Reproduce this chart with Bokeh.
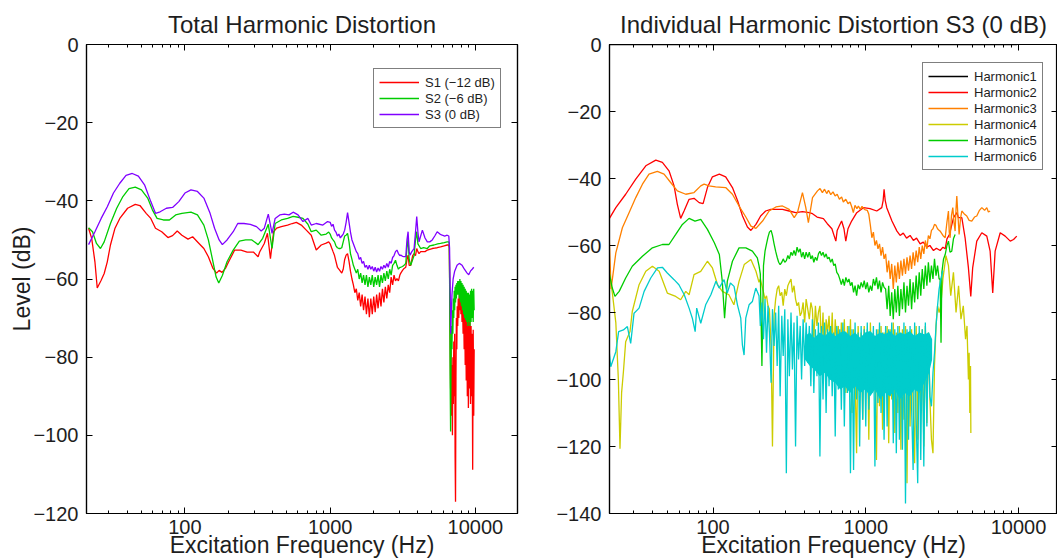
from bokeh.plotting import figure
from bokeh.layouts import row
from bokeh.models import (Range1d, LogAxis, LinearAxis, FixedTicker,
                          CustomJSTickFormatter, Legend, LegendItem)
from bokeh.embed import file_html
from bokeh.resources import INLINE

# ---------------- data ----------------
titles = ["Total Harmonic Distortion", "Individual Harmonic Distortion S3 (0 dB)"]
x_label = "Excitation Frequency (Hz)"
y_label = "Level (dB)"
x_ticks = [100, 1000, 10000]
x_minor_ticks = [30, 40, 50, 60, 70, 80, 90, 200, 300, 400, 500, 600, 700, 800, 900,
                 2000, 3000, 4000, 5000, 6000, 7000, 8000, 9000]
left_y_ticks = [0, -20, -40, -60, -80, -100, -120]
right_y_ticks = [0, -20, -40, -60, -80, -100, -120, -140]
left_names = ["S1 (\u221212 dB)", "S2 (\u22126 dB)", "S3 (0 dB)"]
right_names = ["Harmonic1", "Harmonic2", "Harmonic3", "Harmonic4", "Harmonic5", "Harmonic6"]

# shared sampling frequencies of the noisy mid band (Hz)
freq_grid = [200, 204, 209, 214, 219, 224, 229, 234, 240, 245,
             251, 257, 263, 269, 275, 282, 288, 295, 302, 309,
             316, 324, 331, 339, 347, 355, 363, 372, 380, 389,
             398, 407, 417, 427, 437, 447, 457, 468, 479, 490,
             501, 513, 525, 537, 550, 562, 575, 589, 603, 617,
             631, 646, 661, 676, 692, 708, 724, 741, 759, 776,
             794, 813, 832, 851, 871, 891, 912, 933, 955, 977,
             1000, 1023, 1047, 1072, 1096, 1122, 1148, 1175, 1202, 1230,
             1259, 1288, 1318, 1349, 1380, 1413, 1445, 1479, 1514, 1549,
             1585, 1622, 1660, 1698, 1738, 1778, 1820, 1862, 1905, 1950,
             1995, 2042, 2089, 2138, 2188, 2239, 2291, 2344, 2399, 2455,
             2512, 2570, 2630, 2692, 2754, 2818, 2884, 2951, 3020]
# sampling frequencies of the high end (left panel)
freq_tail = [6607, 6650, 6700, 6750, 6800, 6850, 6900, 6950, 7000, 7050,
             7100, 7150, 7200, 7250, 7300, 7350, 7400, 7450, 7500, 7560,
             7620, 7690, 7750, 7820, 7890, 7950, 8020, 8090, 8160, 8230,
             8300, 8370, 8440, 8510, 8580, 8650, 8730, 8800, 8880, 8950,
             9030, 9100, 9180, 9260, 9340, 9420, 9500, 9580, 9660, 9740, 9810]

# ---- left panel: S1 ----
s1_freq_a = [21.7, 22.8, 24.0, 24.9, 26.5, 27.8, 29.2, 30.7, 33.0, 35.6,
             40.3, 45.5, 49.0, 54.1, 58.2, 62.7, 69.2, 76.4, 82.2, 88.5,
             95.3, 105, 113, 125, 135, 145, 156, 165, 172, 180,
             190, 200, 220, 243, 268, 296, 319, 327, 352, 370,
             388, 408, 428, 461, 509, 548, 585, 633, 685, 741,
             802, 868, 939, 977]
s1_db_a = [-47.0, -49.6, -55.6, -62.3, -60.3, -58.6, -55.6, -51.3, -47.0, -44.5,
           -41.9, -40.9, -41.2, -43.2, -44.5, -47.0, -47.9, -49.4, -48.9, -47.7,
           -48.8, -49.8, -49.2, -50.9, -52.2, -54.3, -57.3, -58.5, -57.8, -58.3,
           -57.3, -55.6, -52.6, -52.6, -53.1, -53.1, -54.3, -53.1, -50.9, -48.3,
           -54.8, -47.9, -47.0, -46.6, -46.2, -45.8, -45.5, -46.2, -47.5, -48.8,
           -52.6, -51.3, -50.8, -50.5]
s1_db_grid = [-51.0, -52.0, -53.0, -54.0, -55.5, -57.0, -57.5, -58.0, -58.5, -57.5,
              -55.0, -53.9, -53.5, -55.5, -58.0, -60.0, -61.5, -63.5, -62.5, -65.5,
              -63.5, -67.0, -64.0, -68.0, -64.5, -69.0, -65.0, -69.8, -65.0, -69.0,
              -64.5, -68.5, -64.0, -67.5, -63.5, -67.0, -62.5, -66.0, -62.0, -65.0,
              -61.5, -63.5, -59.5, -61.5, -59.0, -60.5, -59.9, -60.5, -59.0]
s1_freq_b = [3064, 3150, 3228, 3316, 3380, 3441, 3500, 3587, 3700, 3784,
             3870, 3946, 4020, 4093, 4200, 4316, 4500, 4667, 4850, 5047,
             5250, 5458, 5754, 6100, 6394, 6560]
s1_db_b = [-58.5, -57.8, -57.3, -57.0, -55.0, -53.9, -56.5, -56.5, -54.0, -53.5,
           -54.0, -52.2, -53.0, -53.5, -53.0, -53.0, -53.0, -52.6, -52.4, -52.2,
           -52.1, -52.0, -51.8, -51.5, -51.3, -51.3]
s1_db_tail = [-52, -60, -75, -88, -78, -95, -82, -100, -80, -92,
              -76, -90, -74, -105, -117, -85, -70, -78, -67, -72,
              -65, -70, -64, -68, -64.2, -69, -65, -71, -66, -74,
              -67, -78, -68, -82, -69, -86, -70, -90, -69, -93,
              -70, -88, -71, -92, -72, -90, -74, -108.8, -73, -95, -78]

# ---- left panel: S2 ----
s2_freq_a = [21.7, 23.1, 24.6, 26.2, 27.8, 30.7, 33.9, 37.4, 41.2, 45.5,
             50.2, 55.4, 59.7, 64.3, 71.0, 78.2, 86.3, 95.3, 110, 122,
             135, 145, 156, 164, 171, 181, 195, 215, 237, 262,
             289, 319, 343, 375, 398, 418, 461, 509, 556, 601,
             650, 703, 741, 802, 868, 939, 977]
s2_db_a = [-46.9, -47.9, -50.9, -52.2, -50.5, -45.8, -41.9, -38.9, -36.9, -36.5,
           -37.2, -39.3, -42.3, -44.5, -44.9, -44.9, -43.6, -43.2, -42.9, -43.6,
           -46.2, -50.0, -55.6, -59.5, -61.0, -59.1, -55.6, -52.6, -50.3, -50.0,
           -50.0, -51.2, -49.6, -46.0, -52.2, -45.8, -44.9, -44.5, -44.0, -44.2,
           -44.5, -46.0, -47.9, -47.5, -48.8, -48.5, -48.0]
s2_db_grid = [-48.5, -49.5, -50.0, -50.5, -51.5, -52.0, -52.2, -52.2, -52.0, -50.5,
              -49.0, -48.8, -48.3, -50.5, -53.5, -55.0, -56.5, -57.5, -58.5, -57.5,
              -60.0, -58.5, -61.0, -59.0, -61.5, -59.0, -62.0, -59.5, -61.5, -59.0,
              -62.0, -59.5, -61.5, -59.0, -62.0, -59.0, -61.0, -58.5, -60.5, -58.0,
              -60.0, -57.5, -59.0, -56.5, -56.0, -55.2, -56.5, -57.5, -57.0]
s2_freq_b = [3064, 3150, 3228, 3316, 3380, 3441, 3500, 3587, 3700, 3784,
             3870, 3946, 4020, 4200, 4400, 4667, 4850, 5184, 5500, 5754,
             6100, 6394, 6560]
s2_db_b = [-57.0, -56.8, -56.5, -56.0, -52.0, -49.6, -55.0, -56.5, -55.0, -54.0,
           -50.0, -47.9, -51.0, -52.2, -52.0, -52.2, -51.5, -51.3, -51.0, -50.9,
           -50.7, -50.5, -50.5]
s2_db_tail = [-51, -62, -85, -99, -80, -72, -78, -68, -74, -65,
              -70, -63, -68, -62, -66, -61.5, -65, -61, -64, -60.5,
              -64, -60.5, -65, -60, -66, -60.5, -67, -61, -68, -61.5,
              -69, -62, -70, -62.5, -70.5, -63, -71, -63.5, -72, -63.5,
              -71, -64, -72, -63, -71, -62.5, -70, -63, -71, -62.5, -68]

# ---- left panel: S3 ----
s3_freq_a = [21.7, 24.0, 26.5, 29.2, 32.2, 35.6, 39.3, 43.4, 47.8, 52.7,
             58.2, 62.7, 67.5, 74.5, 82.2, 90.7, 100, 110, 122, 135,
             149, 160, 172, 181, 195, 215, 231, 255, 282, 311,
             335, 352, 375, 398, 418, 450, 484, 521, 556, 601,
             650, 703, 741, 802, 891, 960]
s3_db_a = [-51.2, -47.9, -44.5, -41.5, -38.0, -35.5, -33.5, -33.0, -33.7, -35.9,
           -40.2, -43.2, -42.8, -41.9, -41.7, -40.2, -38.0, -37.2, -37.6, -39.3,
           -43.2, -47.0, -50.0, -51.2, -50.0, -47.9, -45.8, -45.8, -46.0, -46.6,
           -47.7, -47.0, -43.4, -48.3, -44.5, -43.6, -43.4, -43.6, -42.9, -43.6,
           -45.3, -44.5, -46.2, -45.8, -46.2, -45.3]
s3_db_grid = [-45.5, -46.5, -46.0, -47.5, -48.0, -49.0, -48.5, -49.5, -49.0, -48.5,
              -47.5, -45.5, -43.0, -45.5, -48.0, -50.0, -51.0, -52.0, -53.0, -53.5,
              -55.0, -54.5, -56.0, -55.5, -57.0, -56.5, -57.5, -56.5, -57.5, -56.8,
              -58.0, -57.0, -58.2, -57.2, -58.0, -56.8, -57.5, -56.5, -57.2, -56.0,
              -57.0, -55.5, -56.0, -54.5, -54.0, -53.0, -52.6, -53.5, -54.0]
s3_freq_b = [3064, 3150, 3228, 3316, 3380, 3441, 3500, 3550, 3650, 3784,
             3870, 3946, 4020, 4093, 4200, 4316, 4500, 4667, 4850, 5047,
             5250, 5458, 5700, 5911, 6150, 6394, 6560, 6640, 6700, 6760,
             6808, 6900, 7027, 7200, 7480, 7750, 8105, 8400, 8770, 9000,
             9245, 9500, 9750]
s3_db_b = [-53.9, -54.2, -54.3, -54.3, -50.0, -47.9, -53.0, -53.9, -53.0, -52.2,
           -48.0, -44.0, -48.0, -50.5, -49.0, -47.5, -49.5, -50.5, -50.5, -50.0,
           -49.0, -47.9, -48.5, -48.8, -49.0, -48.8, -49.0, -52.0, -62.0, -74.0,
           -70.0, -64.0, -60.0, -58.0, -56.5, -56.0, -56.5, -57.5, -58.5, -58.9,
           -58.0, -57.5, -57.0]

# ---- right panel ----
h1_freq = [20.8, 9800]
h1_db = [0.0, 0.0]

h2_freq = [20.8, 23.1, 26.8, 31.2, 36.3, 42.2, 46.6, 51.5, 55.6, 58.4,
           61.4, 64.6, 69.7, 75.1, 81.1, 86.1, 91.9, 99.1, 110, 121,
           134, 145, 156, 168, 177, 191, 205, 221, 239, 258,
           285, 315, 348, 385, 426, 448, 480, 528, 560, 600,
           637, 650, 670, 695, 720, 740, 765, 808, 873, 965,
           1067, 1180, 1273, 1300, 1318, 1340, 1372, 1484, 1600, 1678,
           1760, 1850, 1951, 2050, 2150, 2270, 2380, 2512, 2630, 2776,
           2900, 3070, 3200, 3311, 3400, 3535, 3754, 3945, 4045, 4254,
           4470, 4700, 4870, 5010, 5330, 5750, 6200, 6520, 6780, 7030,
           7590, 8180, 8830, 9280, 9740]
h2_db = [-52.2, -48.7, -44.7, -40.2, -36.2, -34.5, -35.2, -37.7, -42.2, -47.7,
         -51.9, -49.7, -46.2, -45.9, -47.2, -47.5, -42.7, -39.5, -38.7, -39.5,
         -42.7, -46.7, -51.2, -54.5, -55.5, -53.7, -51.2, -49.7, -49.2, -49.2,
         -49.2, -49.7, -50.2, -49.9, -50.2, -50.5, -51.5, -52.0, -53.5, -55.0,
         -58.7, -55.5, -54.2, -52.7, -55.0, -58.7, -55.0, -52.7, -50.2, -48.7,
         -49.0, -49.7, -48.7, -46.5, -43.2, -46.5, -48.7, -52.7, -55.7, -57.0,
         -56.3, -57.8, -57.0, -58.5, -57.8, -59.5, -59.0, -60.5, -60.0, -61.5,
         -60.8, -61.5, -60.5, -61.0, -58.0, -56.7, -51.7, -50.2, -51.7, -51.7,
         -57.7, -66.7, -75.2, -66.7, -58.7, -56.2, -57.2, -61.7, -74.2, -61.7,
         -56.2, -57.2, -58.7, -58.2, -57.2]

h3_freq_a = [20.8, 21.5, 23.1, 25.5, 28.2, 31.2, 34.5, 38.1, 43.2, 47.8,
             52.8, 58.4, 66.3, 75.1, 83.1, 87.4, 94.2, 104, 121, 134,
             148, 164, 177, 191, 211, 233, 258, 285, 315, 340,
             357, 385, 405, 421, 448, 483, 502, 520, 537, 555,
             570, 590, 610, 630, 650, 672, 695, 713, 740, 765,
             789, 810, 829, 850, 875, 895, 920, 945, 965, 985]
h3_db_a = [-54.7, -73.0, -62.2, -54.7, -50.2, -45.7, -41.7, -38.7, -37.9, -38.7,
           -41.2, -43.7, -44.7, -44.2, -42.2, -41.7, -42.2, -42.5, -42.7, -44.7,
           -48.2, -51.5, -54.2, -54.9, -52.7, -49.7, -48.5, -48.2, -49.2, -51.7,
           -50.2, -44.2, -48.7, -53.2, -45.7, -43.7, -43.0, -44.2, -43.2, -44.5,
           -43.5, -44.8, -44.0, -45.2, -44.7, -46.2, -45.5, -47.0, -46.2, -47.5,
           -47.0, -48.5, -50.2, -48.0, -49.0, -48.2, -49.2, -48.3, -48.9, -49.3]
h3_db_grid = [-49.5, -50.7, -54.0, -57.7, -56.0, -60.0, -58.5, -61.0, -59.5, -63.0,
              -60.5, -64.0, -62.5, -68.0, -64.5, -70.0, -65.5, -73.0, -66.0, -71.0,
              -65.0, -70.0, -64.5, -69.0, -64.0, -68.5, -63.5, -67.5, -63.0, -67.0,
              -62.0, -66.0, -61.5, -65.0, -60.5, -64.0, -60.0, -62.5, -58.5, -61.0,
              -57.0, -58.0, -55.5, -55.0, -53.7, -54.0, -55.0, -55.5]
h3_freq_b = [3070, 3200, 3311, 3400, 3478, 3520, 3567, 3640, 3714, 3780,
             3846, 3900, 3945, 4000, 4085, 4170, 4254, 4400, 4584, 4750,
             4944, 5150, 5330, 5550, 5750, 6000, 6200, 6350, 6520]
h3_db_b = [-55.7, -57.0, -57.7, -53.0, -49.7, -56.0, -57.7, -51.0, -48.7, -53.0,
           -55.7, -49.0, -45.2, -50.0, -56.7, -52.0, -49.7, -50.5, -51.2, -52.5,
           -52.7, -51.5, -51.2, -49.5, -48.7, -49.5, -48.7, -50.0, -49.7]

h4_freq_a = [20.8, 21.9, 23.1, 24.0, 24.6, 25.2, 25.9, 26.8, 28.6, 29.6,
             32.8, 36.3, 40.1, 44.4, 50.2, 57.0, 61.4, 66.3, 69.7, 75.1,
             83.1, 91.9, 99.1, 107, 115, 127, 137, 148, 160, 177, 191]
h4_db_a = [-66.7, -74.0, -83.0, -100.0, -120.7, -104.0, -97.7, -88.7, -85.7, -79.7,
           -71.7, -67.7, -66.2, -67.7, -74.2, -75.2, -76.2, -73.7, -74.7, -68.7,
           -67.7, -64.7, -66.7, -71.7, -73.7, -74.7, -77.7, -70.7, -65.7, -64.2, -67.7]
h4_db_grid = [-71, -70, -72, -74, -76, -75, -78, -79, -90, -120,
              -81, -76, -73, -72, -75, -74, -78, -73, -75, -72,
              -71, -70, -74, -72, -76, -78, -77, -81, -80, -77,
              -83, -76, -79, -82, -77, -79, -88, -78, -84, -80,
              -78, -90, -80, -98, -82, -86, -81, -92, -80, -95,
              -82, -89, -84, -100, -83, -94, -82, -104, -84, -96,
              -82, -110, -85, -100, -122, -84, -98, -86, -112, -84,
              -102, -85, -118, -83, -104, -86, -99, -124, -85, -108,
              -84, -115, -86, -102, -84, -119, -85, -106, -83, -116,
              -86, -110, -84, -121, -85, -112, -84, -131, -86, -114,
              -85, -108, -125, -84, -118, -86, -110, -85, -120, -84,
              -113, -86, -106, -118, -122, -96, -84, -78, -80]
h4_freq_b = [3100, 3200, 3350, 3478, 3600, 3750, 3900, 4050, 4200, 4350,
             4500, 4600, 4700, 4750, 4800, 4850, 4876]
h4_db_b = [-78, -70, -63, -66, -75, -68, -80, -72, -82, -78,
           -88, -84, -100, -92, -110, -96, -116]

h5_freq_a = [20.8, 21.9, 22.8, 24.3, 26.8, 29.6, 34.5, 40.1, 46.6, 51.5,
             57.0, 63.0, 69.7, 76.2, 83.1, 91.9, 102, 110, 115, 119,
             124, 134, 148, 164, 181, 195]
h5_db_a = [-67.7, -72.7, -75.2, -73.7, -69.7, -66.2, -63.2, -60.7, -59.7, -59.7,
           -56.7, -53.7, -51.9, -52.7, -52.2, -55.2, -59.2, -62.7, -70.7, -81.7,
           -70.7, -64.7, -60.7, -60.7, -61.7, -63.7]
h5_db_grid = [-66, -68.5, -96, -66, -61.7, -59.5, -57.5, -56, -55.5, -57,
              -59.5, -61.7, -63.5, -65, -65.7, -65, -64, -65, -64.5, -63,
              -64, -62, -63, -61.5, -63, -60.5, -62, -61, -63.5, -62,
              -64, -62, -63.5, -62, -64, -63, -65, -63.5, -64.5, -62.5,
              -61.7, -63, -62, -63.5, -62.5, -64, -63.5, -65, -64, -66,
              -65.5, -68, -68.7, -70, -71.7, -70, -72, -69.5, -71, -70,
              -72, -71, -74, -72, -75, -71.7, -73, -71, -72.5, -70.5,
              -73, -71, -74, -72, -73.5, -70, -72, -69.5, -73, -70.5,
              -74, -71, -72.5, -73, -79, -72, -81, -74, -82, -73,
              -80, -72, -81, -73, -79, -71, -80, -72, -78, -70,
              -79, -71, -77, -69, -76, -68, -75, -67, -73, -66,
              -72, -65, -71, -66, -70, -64, -69, -66, -70]
h5_freq_b = [3070, 3110, 3150, 3230, 3311, 3400, 3478, 3560, 3656, 3750, 3846]
h5_db_b = [-70, -89, -68, -64, -62.7, -60, -58.7, -62, -61.7, -58, -56.7]

h6_freq_a = [20.8, 21.4, 23.1, 24.1, 25.9, 27.5, 28.9, 30.4, 32.8, 35.4,
             39.1, 43.3, 46.6, 50.2, 55.6, 59.8, 64.8, 69.7, 73.2, 76.4,
             78.2, 83.1, 89.5, 96.8, 104.5, 109.6, 118.1, 123.9, 130.0, 137.3,
             144.5, 151.9, 155.7, 159.7, 163.8, 172.2, 181.1, 190.5]
h6_db_a = [-90.7, -96.2, -91.7, -85.7, -85.2, -84.2, -89.2, -80.2, -78.7, -73.7,
           -69.7, -66.7, -66.5, -68.2, -70.2, -71.7, -74.7, -78.7, -81.7, -85.7,
           -78.7, -83.2, -77.7, -74.7, -70.7, -72.7, -70.2, -74.2, -71.2, -72.2,
           -77.7, -81.7, -89.7, -92.7, -81.7, -77.7, -76.7, -72.7]
h6_db_grid = [-75, -84, -77, -88, -76, -92, -78, -86, -101, -79,
              -90, -80, -96, -78, -105, -81, -93, -79, -128, -82,
              -99, -80, -97, -83, -120, -81, -94, -84, -100, -82,
              -96, -83, -95, -84, -102, -82, -104, -85, -99, -83,
              -123, -84, -106, -83, -110, -85, -102, -84, -105, -86,
              -117, -84, -103, -85, -109, -83, -114, -86, -104, -84,
              -128, -85, -127, -83, -106, -86, -120, -84, -112, -85,
              -114, -83, -109, -86, -104, -84, -126, -85, -107, -83,
              -110, -86, -118, -84, -114, -85, -105, -83, -119, -85,
              -122, -84, -118, -86, -121, -83, -137, -85, -118, -84,
              -108, -127, -83, -112, -131, -84, -124, -85, -126, -83,
              -114, -86, -105, -108, -98, -92, -84, -78, -73]
h6_freq_b = [3100, 3200]
h6_db_b = [-70, -67.5]
# envelope of the densely packed core of Harmonic6 (solid-looking region)
h6_core_freq = [400, 430, 460, 500, 540, 580, 630, 680, 730, 790,
                850, 920, 990, 1070, 1150, 1240, 1340, 1440, 1550, 1670,
                1800, 1940, 2090, 2250, 2420, 2600, 2720]
h6_core_top = [-87, -86, -87.5, -86, -87, -85.5, -87, -86, -85.5, -87,
               -86, -87.5, -86, -85.5, -87, -86, -86.5, -85.5, -87, -86,
               -86.5, -85.5, -87, -86, -86.5, -86, -88]
h6_core_bottom = [-94, -96, -97, -99, -98, -100, -101, -103, -102, -104,
                  -102, -104, -103, -105, -103, -106, -104, -105, -103, -106,
                  -104, -105, -103, -104, -101, -98, -94]

left_colors = ["#ff0000", "#00cc00", "#8000ff"]
right_colors = ["#000000", "#ff0000", "#ff8000", "#cccc00", "#00cc00", "#00cccc"]

# ---------------- build series ----------------
def join(*parts):
    out = []
    for part in parts:
        out.extend(part)
    return out

left_series = [
    (join(s1_freq_a, freq_grid[70:], s1_freq_b, freq_tail), join(s1_db_a, s1_db_grid, s1_db_b, s1_db_tail)),
    (join(s2_freq_a, freq_grid[70:], s2_freq_b, freq_tail), join(s2_db_a, s2_db_grid, s2_db_b, s2_db_tail)),
    (join(s3_freq_a, freq_grid[70:], s3_freq_b), join(s3_db_a, s3_db_grid, s3_db_b)),
]
right_series = [
    (h1_freq, h1_db),
    (h2_freq, h2_db),
    (join(h3_freq_a, freq_grid[71:], h3_freq_b), join(h3_db_a, h3_db_grid, h3_db_b)),
    (join(h4_freq_a, freq_grid, h4_freq_b), join(h4_db_a, h4_db_grid, h4_db_b)),
    (join(h5_freq_a, freq_grid, h5_freq_b), join(h5_db_a, h5_db_grid, h5_db_b)),
    (join(h6_freq_a, freq_grid, h6_freq_b), join(h6_db_a, h6_db_grid, h6_db_b)),
]
for i, (xs, ys) in enumerate(left_series + right_series):
    assert len(xs) == len(ys), (i, len(xs), len(ys))
assert len(h6_core_freq) == len(h6_core_top) == len(h6_core_bottom)

# ---------------- styling ----------------
FONT = "Liberation Sans"
TEXT = "#1e1e1e"
X_FMT = "return Math.round(tick).toString();"
Y_FMT = "return tick < 0 ? '\\u2212' + Math.abs(tick) : String(tick);"


def common_axis(ax):
    ax.axis_line_color = "black"
    ax.axis_line_width = 1.2
    ax.major_tick_line_color = "black"
    ax.minor_tick_line_color = "black"
    ax.major_tick_in = 6
    ax.major_tick_out = 0
    ax.minor_tick_in = 3
    ax.minor_tick_out = 0
    ax.major_label_text_font = FONT
    ax.major_label_text_font_size = "20px"
    ax.major_label_text_color = TEXT
    ax.axis_label_text_font = FONT
    ax.axis_label_text_font_size = "23px"
    ax.axis_label_text_font_style = "normal"
    ax.axis_label_text_color = TEXT


def hide_labels(ax):
    ax.major_label_text_font_size = "0px"
    ax.major_label_text_alpha = 0
    ax.major_label_standoff = 0


def make_panel(title, x_end, y_ticks, width, border_left, border_right, with_ylabel):
    p = figure(width=width, height=560, x_axis_type="log",
               x_range=Range1d(21, x_end), y_range=Range1d(min(y_ticks), 0),
               output_backend="svg", toolbar_location=None, title=title,
               min_border_left=border_left, min_border_right=border_right,
               min_border_top=44, min_border_bottom=0)
    p.xgrid.visible = False
    p.ygrid.visible = False
    p.outline_line_color = "black"
    p.outline_line_width = 1.2
    p.background_fill_color = "white"
    p.border_fill_color = "white"
    p.title.text_font = FONT
    p.title.text_font_size = "24px"
    p.title.text_font_style = "normal"
    p.title.text_color = TEXT
    p.title.align = "center"
    p.title.standoff = 14

    xt = FixedTicker(ticks=x_ticks, minor_ticks=x_minor_ticks)
    yt = FixedTicker(ticks=y_ticks)

    xa = p.xaxis[0]
    common_axis(xa)
    xa.ticker = xt
    xa.formatter = CustomJSTickFormatter(code=X_FMT)
    xa.axis_label = x_label
    xa.major_label_standoff = 6
    xa.axis_label_standoff = -5

    ya = p.yaxis[0]
    common_axis(ya)
    ya.ticker = yt
    ya.formatter = CustomJSTickFormatter(code=Y_FMT)
    ya.major_label_standoff = 8
    ya.minor_tick_line_color = None
    if with_ylabel:
        ya.axis_label = y_label
        ya.axis_label_standoff = -5

    top = LogAxis(ticker=FixedTicker(ticks=x_ticks, minor_ticks=x_minor_ticks))
    common_axis(top)
    hide_labels(top)
    p.add_layout(top, "above")

    right = LinearAxis(ticker=FixedTicker(ticks=y_ticks))
    common_axis(right)
    hide_labels(right)
    right.minor_tick_line_color = None
    p.add_layout(right, "right")
    return p


def add_legend(p, items, loc):
    lg = Legend(items=items, location=loc, orientation="vertical")
    lg.border_line_color = "black"
    lg.border_line_width = 1.5
    lg.background_fill_color = "white"
    lg.background_fill_alpha = 1.0
    lg.padding = 5
    lg.spacing = 0
    lg.margin = 0
    lg.glyph_width = 40
    lg.glyph_height = 16
    lg.label_height = 16
    lg.label_standoff = 6
    lg.label_text_font = FONT
    lg.label_text_font_size = "13px"
    lg.label_text_color = TEXT
    p.add_layout(lg)


p1 = make_panel(titles[0], 19500, left_y_ticks, 530, 86, 13, True)
items = []
for (xs, ys), name, col in zip(left_series, left_names, left_colors):
    r = p1.line(xs, ys, line_color=col, line_width=1.3)
    items.append(LegendItem(label=name, renderers=[r]))
add_legend(p1, items, (287, 385))

p2 = make_panel(titles[1], 18000, right_y_ticks, 527, 79, 0, False)
items = []
for idx, ((xs, ys), name, col) in enumerate(zip(right_series, right_names, right_colors)):
    if idx == 5:
        # solid-looking core of the dense Harmonic6 trace
        p2.varea(x=h6_core_freq, y1=h6_core_bottom, y2=h6_core_top, fill_color=col)
    r = p2.line(xs, ys, line_color=col, line_width=1.3)
    items.append(LegendItem(label=name, renderers=[r]))
add_legend(p2, items, (313, 343))

layout = row(p1, p2)
open("out.html", "w").write(file_html(layout, INLINE))
